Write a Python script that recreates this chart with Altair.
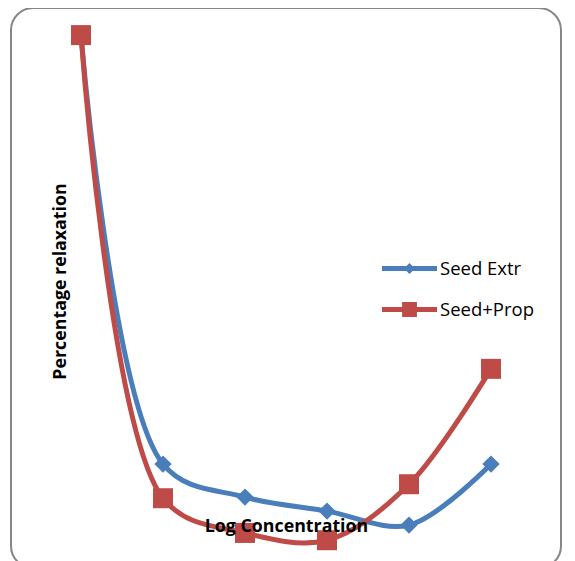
import altair as alt
import pandas as pd

series_names = ["Seed Extr", "Seed+Prop"]
log_conc = [1, 2, 3, 4, 5, 6]
seed_extr = [94.8, 18.2, 12.3, 9.8, 7.3, 18.2]
seed_prop = [94.8, 12.1, 5.9, 4.6, 14.6, 35.2]
colors = ["#4A7EBB", "#BE4B48"]

rows = []
for s, vals in zip(series_names, [seed_extr, seed_prop]):
    for x, v in zip(log_conc, vals):
        rows.append({"conc": x, "relax": v, "series": s})
df = pd.DataFrame(rows)

W, H = 550, 560
xs = alt.Scale(domain=[0.1463, 6.8537], nice=False, zero=False)
ys = alt.Scale(domain=[-0.36, 99.64], nice=False, zero=False)
x_enc = alt.X("conc:Q", scale=xs,
              axis=alt.Axis(title="Log Concentration", domain=False, ticks=False, labels=False,
                            grid=False, titleX=275, titleY=-42, titleBaseline="middle",
                            titleFont="Open Sans", titleFontSize=17.8, titleFontWeight="bold",
                            titleColor="black", zindex=1))
y_enc = alt.Y("relax:Q", scale=ys,
              axis=alt.Axis(title="Percentage relaxation", domain=False, ticks=False, labels=False,
                            grid=False, titleX=49, titleY=273, titleBaseline="middle",
                            titleFont="Open Sans", titleFontSize=17.8, titleFontWeight="bold",
                            titleColor="black", zindex=1))

layers = []
shapes = ["diamond", "square"]
sizes = [300, 400]
for name, col, shp, sz in zip(series_names, colors, shapes, sizes):
    base = alt.Chart(df).transform_filter(alt.datum.series == name)
    layers.append(base.mark_line(color=col, strokeWidth=5, interpolate="catmull-rom",
                                 strokeCap="round").encode(x=x_enc, y=y_enc))
    layers.append(base.mark_point(color=col, filled=True, opacity=1, shape=shp, size=sz)
                  .encode(x=x_enc, y=y_enc))

leg_paths = [
    "M-1,-0.09L1,-0.09L1,0.09L-1,0.09Z M0,-0.2L0.2,0L0,0.2L-0.2,0Z",
    "M-1,-0.09L1,-0.09L1,0.09L-1,0.09Z M-0.27,-0.27L0.27,-0.27L0.27,0.27L-0.27,0.27Z",
]
legend_layer = alt.Chart(df).transform_filter("false").mark_point(filled=True, opacity=1).encode(
    x=x_enc, y=y_enc,
    color=alt.Color("series:N", scale=alt.Scale(domain=series_names, range=colors),
                    legend=alt.Legend(title=None, orient="none", legendX=371, legendY=233,
                                      padding=0, rowPadding=4, labelFont="Open Sans",
                                      labelFontSize=18.5, labelColor="black", labelOffset=3,
                                      symbolSize=3025, symbolStrokeWidth=0)),
    shape=alt.Shape("series:N", scale=alt.Scale(domain=series_names, range=leg_paths)),
)

chart = alt.layer(*layers, legend_layer).properties(
    width=W, height=H,
    autosize=alt.AutoSizeParams(type="none"),
    padding={"left": 3, "top": 0, "right": 6, "bottom": 0},
).configure(
    background="white",
    view=alt.ViewConfig(stroke="#868686", strokeWidth=2, cornerRadius=22),
)

chart.save("out.html", embed_options={"renderer": "svg", "actions": False})
